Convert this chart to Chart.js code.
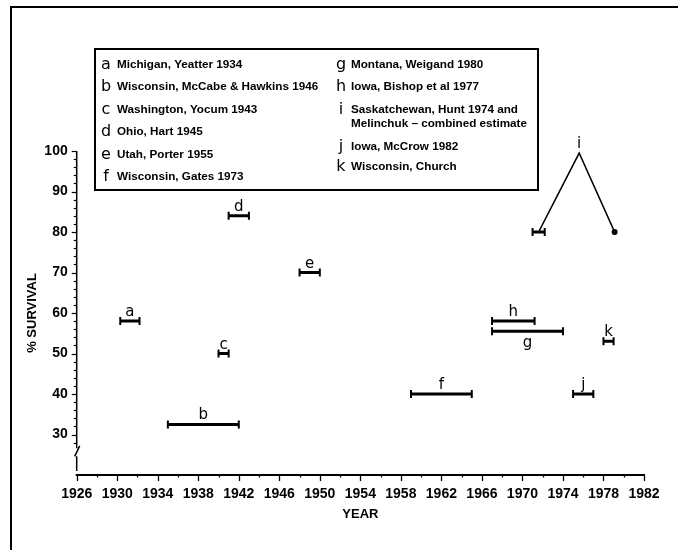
<!DOCTYPE html>
<html>
<head>
<meta charset="utf-8">
<script src="https://cdn.jsdelivr.net/npm/chart.js@4.4.1/dist/chart.umd.min.js"></script>
<style>
  html, body { margin: 0; padding: 0; background: #fff; }
  #wrap { width: 678px; height: 550px; }
</style>
</head>
<body>
<div id="wrap"><canvas id="survivalChart" width="678" height="550"></canvas></div>
<script>
  // each study: first and last year of the period, survival in percent
  const studyLetters = ['a', 'b', 'c', 'd', 'e', 'f', 'g', 'h', 'j', 'k'];
  const periodStart = [1930.3, 1935, 1940, 1941, 1948, 1959, 1967, 1967, 1975, 1978];
  const periodEnd = [1932.2, 1942, 1941, 1943, 1950, 1965, 1974, 1971.2, 1977, 1979];
  const survival = [58, 32.5, 50, 84, 70, 40, 55.5, 58, 40, 53];

  // study i: two estimates joined up to the combined estimate
  const iPeriod = [1971, 1972.2];
  const iYears = [1971.6, 1975.6, 1979.1];
  const iSurvival = [80, 99.5, 80];

  const xTicks = [1926, 1930, 1934, 1938, 1942, 1946, 1950, 1954, 1958, 1962, 1966, 1970, 1974, 1978, 1982];
  const yTicks = [30, 40, 50, 60, 70, 80, 90, 100];

  const legendLettersLeft = ['a', 'b', 'c', 'd', 'e', 'f'];
  const legendTextsLeft = [
    'Michigan, Yeatter 1934',
    'Wisconsin, McCabe & Hawkins 1946',
    'Washington, Yocum 1943',
    'Ohio, Hart 1945',
    'Utah, Porter 1955',
    'Wisconsin, Gates 1973'
  ];
  const legendLettersRight = ['g', 'h', 'i', 'j', 'k'];
  const legendTextsRight = [
    ['Montana, Weigand 1980'],
    ['Iowa, Bishop et al 1977'],
    ['Saskatchewan, Hunt 1974 and', 'Melinchuk \u2013 combined estimate'],
    ['Iowa, McCrow 1982'],
    ['Wisconsin, Church']
  ];

  const axisFont = '"Liberation Sans", Arial, sans-serif';
  const textFont = '"Liberation Sans", Arial, sans-serif';
  const letterFont = '"DejaVu Sans", sans-serif';

  const datasets = studyLetters.map((letter, i) => ({
    label: letter,
    data: [{ x: periodStart[i], y: survival[i] }, { x: periodEnd[i], y: survival[i] }],
    showLine: true,
    borderColor: '#000',
    borderWidth: 3,
    pointStyle: 'line',
    pointRotation: 90,
    pointRadius: 4,
    pointBorderWidth: 2,
    pointBorderColor: '#000'
  }));
  datasets.push({
    label: 'i',
    data: iPeriod.map(v => ({ x: v, y: iSurvival[0] })),
    showLine: true,
    borderColor: '#000',
    borderWidth: 3,
    pointStyle: 'line',
    pointRotation: 90,
    pointRadius: 4,
    pointBorderWidth: 2,
    pointBorderColor: '#000'
  });
  datasets.push({
    label: 'i combined',
    data: iYears.map((v, k) => ({ x: v, y: iSurvival[k] })),
    showLine: true,
    borderColor: '#000',
    borderWidth: 1.6,
    pointStyle: 'circle',
    pointRadius: [0, 0, 3],
    pointBackgroundColor: '#000',
    pointBorderColor: '#000',
    pointBorderWidth: 0
  });

  // frame, axes with minor ticks and the axis break
  const axesPlugin = {
    id: 'axesPlugin',
    beforeDraw(chart) {
      const { ctx } = chart;
      ctx.save();
      ctx.strokeStyle = '#000';
      ctx.lineWidth = 2;
      ctx.beginPath();
      ctx.moveTo(11, 550);
      ctx.lineTo(11, 7);
      ctx.lineTo(678, 7);
      ctx.stroke();
      ctx.restore();
    },
    afterDraw(chart) {
      const { ctx, scales: { x, y } } = chart;
      const x0 = x.getPixelForValue(1926);
      const x1 = x.getPixelForValue(1982);
      const yb = chart.chartArea.bottom;
      ctx.save();
      ctx.strokeStyle = '#000';
      ctx.lineWidth = 2;
      ctx.beginPath();
      ctx.moveTo(x0 - 1, yb);
      ctx.lineTo(x1 + 1, yb);
      ctx.stroke();
      ctx.lineWidth = 1.3;
      for (let yr = 1926; yr <= 1982; yr += 2) {
        const px = Math.round(x.getPixelForValue(yr)) + 0.5;
        const len = (yr - 1926) % 4 === 0 ? 6 : 2.5;
        ctx.beginPath();
        ctx.moveTo(px, yb);
        ctx.lineTo(px, yb + len);
        ctx.stroke();
      }
      // y axis with break
      ctx.lineWidth = 1.5;
      ctx.beginPath();
      ctx.moveTo(x0, y.getPixelForValue(100));
      ctx.lineTo(x0, y.getPixelForValue(26.6));
      ctx.moveTo(x0 - 2, y.getPixelForValue(24.6));
      ctx.lineTo(x0 + 3, y.getPixelForValue(27.2));
      ctx.moveTo(x0, y.getPixelForValue(24.6));
      ctx.lineTo(x0, y.getPixelForValue(21));
      ctx.stroke();
      ctx.lineWidth = 1.2;
      for (let v = 28; v <= 100; v += 2) {
        const py = Math.round(y.getPixelForValue(v)) + 0.5;
        const len = v % 10 === 0 ? 5 : 3;
        ctx.beginPath();
        ctx.moveTo(x0, py);
        ctx.lineTo(x0 - len, py);
        ctx.stroke();
      }
      ctx.restore();
    }
  };

  // letters next to each study period
  const letterPlugin = {
    id: 'letterPlugin',
    afterDatasetsDraw(chart) {
      const { ctx, scales: { x, y } } = chart;
      ctx.save();
      ctx.fillStyle = '#000';
      ctx.font = '15px ' + letterFont;
      ctx.textAlign = 'center';
      studyLetters.forEach((letter, i) => {
        const px = x.getPixelForValue((periodStart[i] + periodEnd[i]) / 2);
        const py = y.getPixelForValue(survival[i]);
        if (letter === 'g') {
          ctx.textBaseline = 'top';
          ctx.fillText(letter, px, py + 4);
        } else {
          ctx.textBaseline = 'alphabetic';
          ctx.fillText(letter, px, py - 5);
        }
      });
      ctx.textBaseline = 'alphabetic';
      ctx.fillText('i', x.getPixelForValue(iYears[1]), y.getPixelForValue(iSurvival[1]) - 5);
      ctx.restore();
    }
  };

  // key box
  const keyPlugin = {
    id: 'keyPlugin',
    afterDraw(chart) {
      const { ctx } = chart;
      ctx.save();
      ctx.fillStyle = '#fff';
      ctx.fillRect(95, 49, 443, 141);
      ctx.strokeStyle = '#000';
      ctx.lineWidth = 2;
      ctx.strokeRect(95, 49, 443, 141);
      ctx.fillStyle = '#000';
      ctx.textBaseline = 'alphabetic';
      const leftRows = [69, 91.4, 113.8, 136.2, 158.6, 181];
      legendLettersLeft.forEach((letter, i) => {
        ctx.font = '16px ' + letterFont;
        ctx.textAlign = 'center';
        ctx.fillText(letter, 106, leftRows[i]);
        ctx.font = 'bold 11.7px ' + textFont;
        ctx.textAlign = 'left';
        ctx.fillText(legendTextsLeft[i], 117, leftRows[i] - 1);
      });
      const rightRows = [69, 91, 114, 151, 171];
      legendLettersRight.forEach((letter, i) => {
        ctx.font = '16px ' + letterFont;
        ctx.textAlign = 'center';
        ctx.fillText(letter, 341, rightRows[i]);
        ctx.font = 'bold 11.7px ' + textFont;
        ctx.textAlign = 'left';
        legendTextsRight[i].forEach((line, k) => {
          ctx.fillText(line, 351, rightRows[i] - 1 + k * 13.5);
        });
      });
      ctx.restore();
    }
  };

  new Chart(document.getElementById('survivalChart'), {
    type: 'scatter',
    data: { datasets },
    options: {
      responsive: false,
      animation: false,
      layout: { padding: { left: 20, right: 34, top: 151, bottom: 0 } },
      plugins: { legend: { display: false }, tooltip: { enabled: false } },
      scales: {
        x: {
          type: 'linear',
          min: 1926,
          max: 1982,
          afterBuildTicks: s => { s.ticks = xTicks.map(v => ({ value: v })); },
          afterFit: s => { s.height = 75; },
          grid: { display: false, drawTicks: false },
          border: { display: false },
          ticks: {
            color: '#000',
            padding: 11,
            maxRotation: 0,
            autoSkip: false,
            font: { family: axisFont, size: 14, weight: 'bold' },
            callback: v => String(v)
          },
          title: {
            display: true,
            text: 'YEAR',
            color: '#000',
            font: { family: axisFont, size: 13, weight: 'bold' },
            padding: { top: 0, bottom: 28 }
          }
        },
        y: {
          type: 'linear',
          min: 20,
          max: 100,
          afterBuildTicks: s => { s.ticks = yTicks.map(v => ({ value: v })); },
          afterFit: s => { s.width = 56.7; },
          grid: { display: false, drawTicks: false },
          border: { display: false },
          ticks: {
            color: '#000',
            padding: 9,
            font: { family: axisFont, size: 14, weight: 'bold' }
          },
          title: {
            display: true,
            text: '% SURVIVAL',
            color: '#000',
            font: { family: axisFont, size: 13, weight: 'bold' },
            padding: { top: 5, bottom: 0 }
          }
        }
      }
    },
    plugins: [axesPlugin, letterPlugin, keyPlugin]
  });
</script>
</body>
</html>
